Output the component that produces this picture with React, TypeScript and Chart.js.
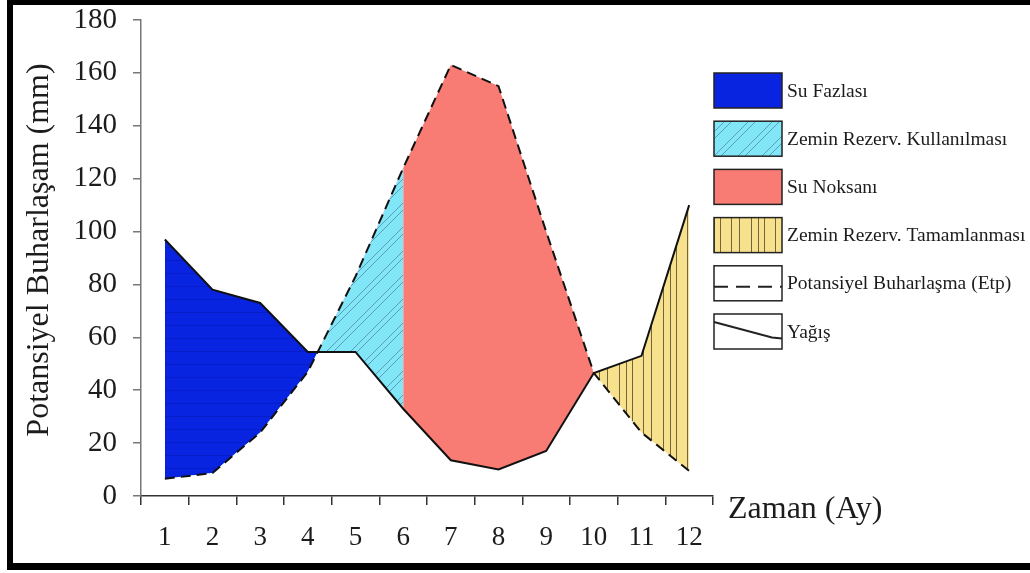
import React, { useEffect, useRef } from 'react';
import { Chart, registerables } from 'chart.js';

Chart.register(...registerables);

const months = ['1', '2', '3', '4', '5', '6', '7', '8', '9', '10', '11', '12'];
const yagis = [97, 78, 73, 54.5, 54.5, 33, 13.5, 10, 17, 46.5, 53, 110];
const etp = [6.5, 8.7, 24, 47, 83, 124, 163, 155, 100, 46.5, 24, 9.5];
const legendLabels = [
  'Su Fazlası',
  'Zemin Rezerv. Kullanılması',
  'Su Noksanı',
  'Zemin Rezerv. Tamamlanması',
  'Potansiyel Buharlaşma (Etp)',
  'Yağış',
];
const yTitle = 'Potansiyel Buharlaşam (mm)';
const xTitle = 'Zaman (Ay)';

const FONT = "'Liberation Serif', 'Times New Roman', Times, serif";
const TEXT = '#1c1c1c';
const BLUE = '#0824e0';
const CYAN = '#80e6f8';
const RED = '#f87c74';
const YELLOW = '#f8e18c';

const seg = (arr: number[], from: number, to: number) =>
  arr.map((v, i) => (i >= from && i <= to ? v : null));

function makePattern(w: number, h: number, bg: string, draw: (c: CanvasRenderingContext2D) => void) {
  const c = document.createElement('canvas');
  c.width = w;
  c.height = h;
  const x = c.getContext('2d')!;
  x.fillStyle = bg;
  x.fillRect(0, 0, w, h);
  draw(x);
  return x.createPattern(c, 'repeat')!;
}

export default function App() {
  const ref = useRef<HTMLCanvasElement | null>(null);

  useEffect(() => {
    document.body.style.margin = '0';
    document.body.style.overflow = 'hidden';
    const canvas = ref.current!;

    const bluePat = makePattern(20, 13, BLUE, (c) => {
      c.strokeStyle = 'rgba(0,0,90,0.18)';
      c.lineWidth = 1;
      c.beginPath();
      c.moveTo(0, 0.5);
      c.lineTo(20, 0.5);
      c.stroke();
    });
    const cyanPat = makePattern(48, 48, CYAN, (c) => {
      c.strokeStyle = 'rgba(60,100,125,0.7)';
      c.lineWidth = 0.8;
      const s = 48;
      [6, 13, 30, 37].forEach((k) => {
        for (let m = -1; m <= 2; m++) {
          const cc = k + m * s;
          c.beginPath();
          c.moveTo(cc, 0);
          c.lineTo(cc - s, s);
          c.stroke();
        }
      });
    });
    const yellowPat = makePattern(44, 10, YELLOW, (c) => {
      c.strokeStyle = 'rgba(90,78,45,0.85)';
      c.lineWidth = 1;
      [3.5, 10.5, 16.5, 27.5, 35.5].forEach((x) => {
        c.beginPath();
        c.moveTo(x, 0);
        c.lineTo(x, 10);
        c.stroke();
      });
    });

    const hidden = {
      borderWidth: 0,
      borderColor: 'transparent',
      pointRadius: 0,
      fill: false,
    };

    const decor = {
      id: 'decor',
      beforeDraw(chart: any) {
        const ctx = chart.ctx;
        ctx.save();
        ctx.fillStyle = '#ffffff';
        ctx.fillRect(0, 0, chart.width, chart.height);
        ctx.restore();
      },
      afterDraw(chart: any) {
        const ctx: CanvasRenderingContext2D = chart.ctx;
        const area = chart.chartArea;
        ctx.save();
        // axis titles
        ctx.fillStyle = TEXT;
        ctx.font = `32px ${FONT}`;
        ctx.textAlign = 'left';
        ctx.textBaseline = 'middle';
        ctx.fillText(xTitle, area.right + 15, area.bottom + 14);
        ctx.save();
        ctx.translate(40, 250);
        ctx.rotate(-Math.PI / 2);
        ctx.textAlign = 'center';
        ctx.fillText(yTitle, 0, 0);
        ctx.restore();

        // legend
        const bx = area.right + 1;
        const bw = 68;
        const bh = 35;
        const top0 = 73;
        const pitch = 48.2;
        const fills: any[] = [BLUE, cyanPat, RED, yellowPat, '#ffffff', '#ffffff'];
        legendLabels.forEach((label, i) => {
          const y = top0 + i * pitch;
          ctx.fillStyle = fills[i];
          ctx.fillRect(bx, y, bw, bh);
          ctx.strokeStyle = '#222';
          ctx.lineWidth = 1.5;
          ctx.setLineDash([]);
          ctx.strokeRect(bx, y, bw, bh);
          if (i === 4) {
            ctx.beginPath();
            ctx.setLineDash([14, 8]);
            ctx.lineWidth = 2;
            ctx.moveTo(bx, y + bh * 0.6);
            ctx.lineTo(bx + bw, y + bh * 0.6);
            ctx.stroke();
            ctx.setLineDash([]);
          }
          if (i === 5) {
            ctx.beginPath();
            ctx.lineWidth = 2;
            ctx.moveTo(bx, y + bh * 0.23);
            ctx.lineTo(bx + bw - 10, y + bh * 0.67);
            ctx.lineTo(bx + bw, y + bh * 0.7);
            ctx.stroke();
          }
          ctx.fillStyle = TEXT;
          ctx.font = `19.5px ${FONT}`;
          ctx.textAlign = 'left';
          ctx.textBaseline = 'middle';
          ctx.fillText(label, bx + bw + 5, y + bh / 2 + 1);
        });

        // frame
        ctx.fillStyle = '#000';
        ctx.fillRect(7, 0, 6, 570);
        ctx.fillRect(7, 0, chart.width, 5);
        ctx.fillRect(7, 563, chart.width, 7);
        ctx.restore();
      },
    };

    const chart = new Chart(canvas, {
      type: 'line',
      data: {
        labels: months,
        datasets: [
          {
            label: 'Potansiyel Buharlaşma (Etp)',
            data: etp,
            borderColor: '#111',
            borderWidth: 2,
            borderDash: [10, 6],
            pointRadius: 0,
            fill: false,
          },
          {
            label: 'Yağış',
            data: yagis,
            borderColor: '#111',
            borderWidth: 2,
            pointRadius: 0,
            fill: false,
          },
          {
            label: 'segA-yagis',
            data: seg(yagis, 0, 5),
            ...hidden,
            fill: { target: 3, above: bluePat, below: cyanPat },
          },
          { label: 'segA-etp', data: seg(etp, 0, 5), ...hidden },
          {
            label: 'segB-etp',
            data: seg(etp, 5, 9),
            ...hidden,
            fill: { target: 5, above: RED, below: RED },
          },
          { label: 'segB-yagis', data: seg(yagis, 5, 9), ...hidden },
          {
            label: 'segC-yagis',
            data: seg(yagis, 9, 11),
            ...hidden,
            fill: { target: 7, above: yellowPat, below: yellowPat },
          },
          { label: 'segC-etp', data: seg(etp, 9, 11), ...hidden },
        ] as any,
      },
      options: {
        responsive: false,
        animation: false,
        spanGaps: false,
        layout: { padding: { top: 20, right: 317, bottom: 0, left: 0 } },
        plugins: {
          legend: { display: false },
          tooltip: { enabled: false },
          title: { display: false },
        },
        elements: { line: { tension: 0 } },
        scales: {
          x: {
            type: 'category',
            offset: true,
            grid: {
              offset: true,
              drawOnChartArea: false,
              drawTicks: true,
              tickLength: 9,
              color: '#333',
              lineWidth: 1.5,
            },
            border: { color: '#333', width: 1.5 },
            ticks: {
              font: { family: FONT, size: 27 },
              color: TEXT,
              padding: 17,
              maxRotation: 0,
              autoSkip: false,
            },
            afterFit: (s: any) => {
              s.height = 77;
              s.paddingLeft = 0;
              s.paddingRight = 0;
            },
          },
          y: {
            min: 0,
            max: 180,
            grid: {
              drawOnChartArea: false,
              drawTicks: true,
              tickLength: 8,
              color: '#777',
              lineWidth: 1.5,
            },
            border: { color: '#777', width: 1.5 },
            ticks: {
              stepSize: 20,
              font: { family: FONT, size: 29 },
              color: TEXT,
              padding: 16,
            },
            afterFit: (s: any) => {
              s.width = 141;
              s.paddingTop = 0;
              s.paddingBottom = 0;
            },
          },
        },
      } as any,
      plugins: [decor],
    });

    return () => chart.destroy();
  }, []);

  return (
    <div style={{ width: 1030, height: 573, position: 'relative', overflow: 'hidden' }}>
      <canvas ref={ref} width={1030} height={573} style={{ display: 'block', width: 1030, height: 573 }} />
    </div>
  );
}
